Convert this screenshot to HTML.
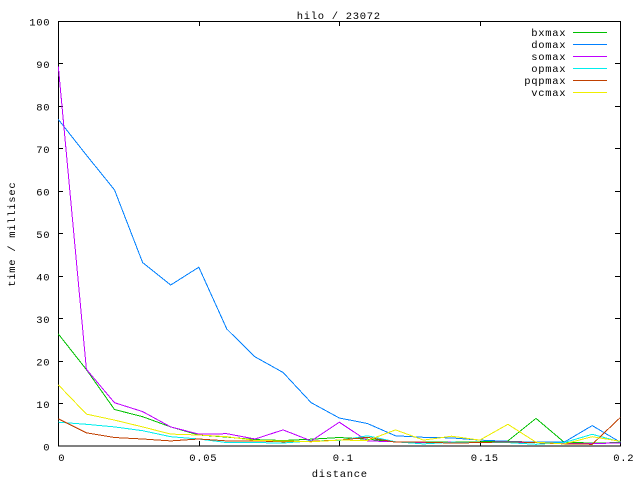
<!DOCTYPE html>
<html><head><meta charset="utf-8"><style>
html,body{margin:0;padding:0;background:#fff;}
svg{display:block;}
text{font-family:"Liberation Mono",monospace;font-size:10.5px;letter-spacing:0.7px;fill:#000;}
</style></head><body>
<svg width="640" height="480" viewBox="0 0 640 480" xmlns="http://www.w3.org/2000/svg">
<rect x="0" y="0" width="640" height="480" fill="#fff"/>
<g stroke="#000" stroke-width="1" fill="none" shape-rendering="crispEdges">
<rect x="58.5" y="21.5" width="562" height="424.5"/>
<path d="M58 403.5h5M58 361.5h5M58 318.5h5M58 276.5h5M58 233.5h5M58 191.5h5M58 148.5h5M58 106.5h5M58 63.5h5
M620 403.5h-5M620 361.5h-5M620 318.5h-5M620 276.5h-5M620 233.5h-5M620 191.5h-5M620 148.5h-5M620 106.5h-5M620 63.5h-5
M199.5 446v-5M339.5 446v-5M480.5 446v-5
M199.5 21v5M339.5 21v5M480.5 21v5"/>
</g>
<text x="296.7" y="19">hilo / 23072</text>
<g>
<text x="29.3" y="25.5">100</text>
<text x="36.3" y="68">90</text>
<text x="36.3" y="110.5">80</text>
<text x="36.3" y="153">70</text>
<text x="36.3" y="195.5">60</text>
<text x="36.3" y="238">50</text>
<text x="36.3" y="280.5">40</text>
<text x="36.3" y="323">30</text>
<text x="36.3" y="365.5">20</text>
<text x="36.3" y="408">10</text>
<text x="43.3" y="450.5">0</text>
</g>
<g>
<text x="58.3" y="461">0</text>
<text x="189.3" y="461">0.05</text>
<text x="332.7" y="461">0.1</text>
<text x="470.7" y="461">0.15</text>
<text x="613.3" y="461">0.2</text>
</g>
<text x="311.7" y="477">distance</text>
<text transform="translate(15,286.7) rotate(-90)" x="0" y="0">time / millisec</text>
<g>
<text x="531.3" y="36">bxmax</text>
<text x="531.3" y="48">domax</text>
<text x="531.3" y="60">somax</text>
<text x="531.3" y="72">opmax</text>
<text x="524.3" y="84">pqpmax</text>
<text x="531.3" y="96">vcmax</text>
</g>
<g stroke-width="1" shape-rendering="crispEdges">
<line x1="573" y1="32.5" x2="607" y2="32.5" stroke="#00c000"/>
<line x1="573" y1="44.5" x2="607" y2="44.5" stroke="#0080ff"/>
<line x1="573" y1="56.5" x2="607" y2="56.5" stroke="#c000ff"/>
<line x1="573" y1="68.5" x2="607" y2="68.5" stroke="#00eeee"/>
<line x1="573" y1="80.5" x2="607" y2="80.5" stroke="#c04000"/>
<line x1="573" y1="92.5" x2="607" y2="92.5" stroke="#eeee00"/>
</g>
<g fill="none" stroke-width="1" stroke-linejoin="miter" shape-rendering="crispEdges">
<polyline stroke="#00c000" points="58.3,333.9 86.4,369.6 114.5,409.5 142.6,416.7 170.7,426.9 198.8,435.0 226.9,437.1 255.0,439.6 283.1,440.5 311.2,439.2 339.3,437.5 367.4,439.2 395.5,441.8 423.6,441.8 451.7,441.8 479.8,441.8 507.9,440.9 536.0,418.4 564.1,442.2 592.2,443.0 620.3,442.6"/>
<polyline stroke="#0080ff" points="58.3,119.4 86.4,155.1 114.5,189.9 142.6,262.5 170.7,285.0 198.8,267.2 226.9,329.2 255.0,356.8 283.1,372.5 311.2,402.7 339.3,418.0 367.4,423.5 395.5,435.8 423.6,437.3 451.7,437.9 479.8,440.1 507.9,441.3 536.0,442.2 564.1,442.2 592.2,425.6 620.3,442.2"/>
<polyline stroke="#c000ff" points="58.3,66.3 86.4,369.3 114.5,402.7 142.6,411.6 170.7,426.9 198.8,434.1 226.9,433.7 255.0,439.0 283.1,429.9 311.2,440.9 339.3,422.2 367.4,440.9 395.5,441.8 423.6,442.6 451.7,442.2 479.8,442.6 507.9,442.2 536.0,442.6 564.1,443.5 592.2,443.5 620.3,443.0"/>
<polyline stroke="#00eeee" points="58.3,422.2 86.4,424.3 114.5,426.9 142.6,430.7 170.7,436.7 198.8,439.0 226.9,442.6 255.0,442.6 283.1,443.0 311.2,440.9 339.3,440.5 367.4,435.8 395.5,441.8 423.6,443.9 451.7,442.2 479.8,442.6 507.9,442.6 536.0,444.3 564.1,442.6 592.2,434.3 620.3,441.8"/>
<polyline stroke="#c04000" points="58.3,418.8 86.4,432.8 114.5,437.5 142.6,439.0 170.7,440.9 198.8,439.0 226.9,440.9 255.0,440.9 283.1,441.8 311.2,441.3 339.3,440.1 367.4,437.3 395.5,442.2 423.6,442.2 451.7,443.0 479.8,442.6 507.9,441.8 536.0,442.6 564.1,443.9 592.2,444.3 620.3,417.5"/>
<polyline stroke="#eeee00" points="58.3,384.8 86.4,414.1 114.5,420.1 142.6,426.9 170.7,434.1 198.8,435.0 226.9,436.7 255.0,440.5 283.1,440.9 311.2,441.8 339.3,440.1 367.4,440.5 395.5,429.9 423.6,440.1 451.7,436.2 479.8,440.1 507.9,424.3 536.0,442.2 564.1,443.9 592.2,436.7 620.3,441.3"/>
</g>
</svg>
</body></html>
